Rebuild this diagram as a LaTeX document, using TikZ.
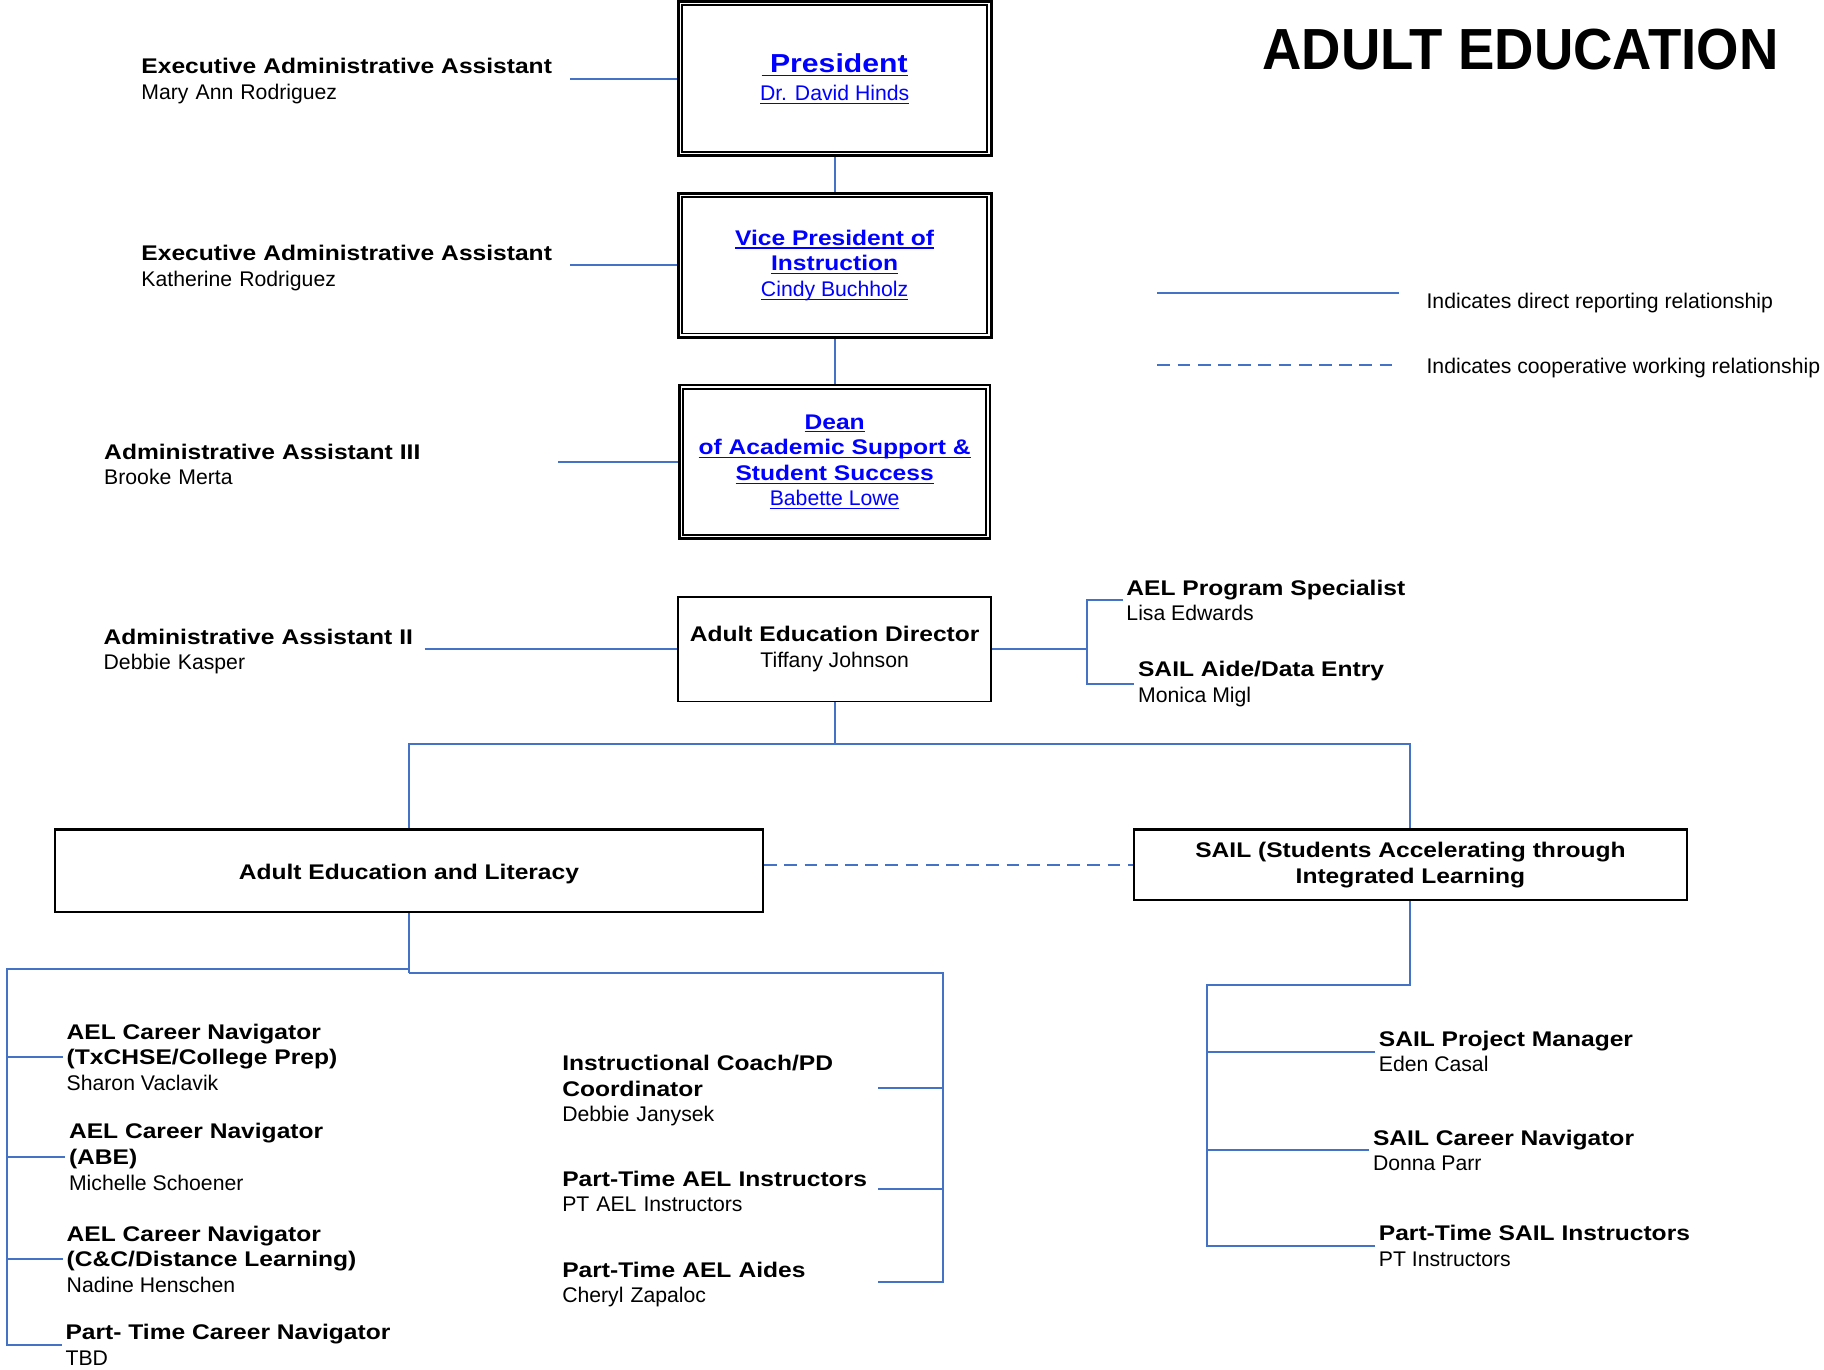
\documentclass[tikz,border=0pt]{standalone}
\usepackage{fontspec}
\setmainfont{Liberation Sans}[BoldFeatures={FakeStretch=1.16}]
\newfontfamily\titlefont{Liberation Sans}[FakeStretch=0.94]
\definecolor{lineblue}{RGB}{68,114,196}
\definecolor{linkblue}{RGB}{0,0,255}
\newcommand\fs{\fontsize{10.6}{12.8}\selectfont}
\newcommand\myul[1]{\setbox0\hbox{#1}\rlap{\rule[-1.7pt]{\wd0}{0.55pt}}\box0}
\begin{document}
\begin{tikzpicture}[x=0.5816pt,y=-0.5816pt,
  conn/.style={draw=lineblue,line width=1pt},
  coop/.style={conn,dash pattern=on 6.4pt off 3.7pt},
  lbl/.style={inner xsep=1.75pt,inner ysep=0pt,align=left,font=\fs,execute at begin node={\rule{0pt}{10.2pt}}},
  dbox/.style={draw,line width=1.4pt,align=center,font=\fs,inner sep=0pt,text=linkblue,execute at begin node={\rule{0pt}{10.8pt}}},
  sbox/.style={draw,line width=1.1pt,align=center,font=\fs,inner sep=0pt,execute at begin node={\rule{0pt}{10.8pt}}},
  inbox/.style={line width=0.8pt}]
\useasboundingbox (0,0) rectangle (1568,1177);

% title
\node[anchor=base west,inner sep=0pt,font=\titlefont\fontsize{29}{30}\selectfont\bfseries] (title) at (1085,60) {ADULT EDUCATION};

% legend
\coordinate (l1a) at (995,252);
\coordinate (l1b) at (1203,252);
\coordinate (l2a) at (995,314);
\coordinate (l2b) at (1203,314);
\draw[conn] (l1a) -- (l1b);
\draw[coop] (l2a) -- (l2b);
\node[lbl,anchor=west] (leg1) at (1223,258) {Indicates direct reporting relationship};
\node[lbl,anchor=west] (leg2) at (1223,314) {Indicates cooperative working relationship};

% top boxes
\node[dbox,minimum width=156.45pt,minimum height=77.35pt,font=\fontsize{10.6}{14}\selectfont,execute at begin node={\rule{0pt}{12.3pt}}] (pres) at (717.5,67.5)
  {{\fontsize{13}{14}\selectfont\bfseries\myul{\ President}}\\\myul{Dr. David Hinds}};
\draw[inbox] ([shift={(4.5,4.5)}]pres.north west) rectangle ([shift={(-4.5,-4.5)}]pres.south east);

\node[dbox,minimum width=156.45pt,minimum height=72.12pt] (vp) at (717.5,228)
  {{\bfseries\myul{Vice President of}}\\{\bfseries\myul{Instruction}}\\\myul{Cindy Buchholz}};
\draw[inbox] ([shift={(4.5,4.5)}]vp.north west) rectangle ([shift={(-4.5,-4.5)}]vp.south east);

\node[dbox,minimum width=155.29pt,minimum height=76.77pt] (dean) at (717.5,397)
  {{\bfseries\myul{Dean}}\\{\bfseries\myul{of Academic Support \&}}\\{\bfseries\myul{Student Success}}\\\myul{Babette Lowe}};
\draw[inbox] ([shift={(4.5,4.5)}]dean.north west) rectangle ([shift={(-4.5,-4.5)}]dean.south east);

\node[sbox,line width=0.9pt,minimum width=156.45pt,minimum height=52.34pt] (dir) at (717.5,558)
  {{\bfseries Adult Education Director}\\Tiffany Johnson};

\node[sbox,minimum width=354.19pt,minimum height=41.29pt] (ael) at (351.5,748.5)
  {\bfseries Adult Education and Literacy};
\node[sbox,minimum width=276.26pt,minimum height=35.48pt] (sail) at (1212.5,743.5)
  {{\bfseries SAIL (Students Accelerating through}\\{\bfseries Integrated Learning}};

% assistants
\node[lbl,anchor=east,text width=212.3pt] (ea1) at (490,67.5) {\textbf{Executive Administrative Assistant}\\Mary Ann Rodriguez};
\node[lbl,anchor=east,text width=212.3pt] (ea2) at (490,228) {\textbf{Executive Administrative Assistant}\\Katherine Rodriguez};
\node[lbl,anchor=east,text width=225.1pt] (aa3) at (480,397) {\textbf{Administrative Assistant III}\\Brooke Merta};
\node[lbl,anchor=east,text width=158.5pt] (aa2) at (365,558) {\textbf{Administrative Assistant II}\\Debbie Kasper};

\draw[conn] (ea1.east) -- (pres.west);
\draw[conn] (ea2.east) -- (vp.west);
\draw[conn] (aa3.east) -- (dean.west);
\draw[conn] (aa2.east) -- (dir.west);
\draw[conn] (pres.south) -- (vp.north);
\draw[conn] (vp.south) -- (dean.north);

% director right
\node[lbl,anchor=west] (aps) at (965,516) {\textbf{AEL Program Specialist}\\Lisa Edwards};
\node[lbl,anchor=west] (sade) at (975,588) {\textbf{SAIL Aide/Data Entry}\\Monica Migl};
\coordinate (dj) at (934,558);
\draw[conn] (dir.east) -- (dj);
\draw[conn] (aps.west) -| (dj) |- (sade.west);

% director down
\coordinate (dj2) at (717.5,640);
\draw[conn] (dir.south) -- (dj2);
\draw[conn] (ael.north) |- (dj2) -| (sail.north);
\draw[coop] (ael.east |- sail.west) -- (sail.west);

% AEL tree
\node[lbl,anchor=west] (n1) at (54,909) {\textbf{AEL Career Navigator}\\\textbf{(TxCHSE/College Prep)}\\Sharon Vaclavik};
\node[lbl,anchor=west] (n2) at (56,994.5) {\textbf{AEL Career Navigator}\\\textbf{(ABE)}\\Michelle Schoener};
\node[lbl,anchor=west] (n3) at (54,1082.5) {\textbf{AEL Career Navigator}\\\textbf{(C\&C/Distance Learning)}\\Nadine Henschen};
\node[lbl,anchor=west] (n4) at (53,1156) {\textbf{Part- Time Career Navigator}\\TBD};

\node[lbl,anchor=west,text width=156pt] (ic) at (480,935.5) {\textbf{Instructional Coach/PD}\\\textbf{Coordinator}\\Debbie Janysek};
\node[lbl,anchor=west,text width=156pt] (pti) at (480,1022) {\textbf{Part-Time AEL Instructors}\\PT AEL Instructors};
\node[lbl,anchor=west,text width=156pt] (aides) at (480,1102) {\textbf{Part-Time AEL Aides}\\Cheryl Zapaloc};

\coordinate (aj1) at (351.5,833);
\coordinate (aj2) at (351.5,836);
\coordinate (lt) at (6,833);
\coordinate (rt) at (811,836);
\draw[conn] (ael.south) -- (aj2);
\draw[conn] (aj1) -- (lt) |- (n4.west);
\draw[conn] (lt |- n1.west) -- (n1.west);
\draw[conn] (lt |- n2.west) -- (n2.west);
\draw[conn] (lt |- n3.west) -- (n3.west);
\draw[conn] (aj2) -- (rt) |- (aides.east);
\draw[conn] (rt |- ic.east) -- (ic.east);
\draw[conn] (rt |- pti.east) -- (pti.east);

% SAIL tree
\node[lbl,anchor=west] (spm) at (1182,904) {\textbf{SAIL Project Manager}\\Eden Casal};
\node[lbl,anchor=west] (scn) at (1177,989) {\textbf{SAIL Career Navigator}\\Donna Parr};
\node[lbl,anchor=west] (spt) at (1182,1071) {\textbf{Part-Time SAIL Instructors}\\PT Instructors};
\coordinate (sj) at (1212.5,847);
\coordinate (st) at (1038,847);
\draw[conn] (sail.south) -- (sj) -- (st) |- (spt.west);
\draw[conn] (st |- spm.west) -- (spm.west);
\draw[conn] (st |- scn.west) -- (scn.west);
\end{tikzpicture}
\end{document}
